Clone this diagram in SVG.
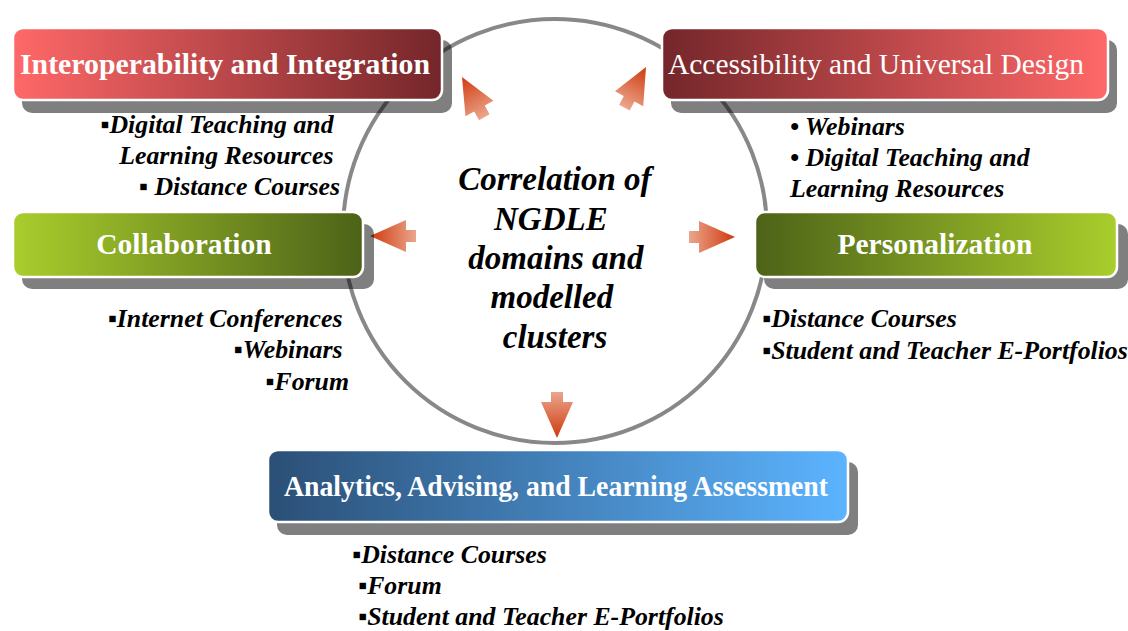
<svg xmlns="http://www.w3.org/2000/svg" width="1128" height="631" viewBox="0 0 1128 631">
  <defs>
    <linearGradient id="gRedR" x1="0" y1="0" x2="1" y2="0">
      <stop offset="0" stop-color="#FF6868"/>
      <stop offset="1" stop-color="#74262A"/>
    </linearGradient>
    <linearGradient id="gRedL" x1="0" y1="0" x2="1" y2="0">
      <stop offset="0" stop-color="#74262A"/>
      <stop offset="1" stop-color="#FF6868"/>
    </linearGradient>
    <linearGradient id="gGreenR" x1="0" y1="0" x2="1" y2="0">
      <stop offset="0" stop-color="#A9CE2C"/>
      <stop offset="1" stop-color="#4D6218"/>
    </linearGradient>
    <linearGradient id="gGreenL" x1="0" y1="0" x2="1" y2="0">
      <stop offset="0" stop-color="#4D6218"/>
      <stop offset="1" stop-color="#A9CE2C"/>
    </linearGradient>
    <linearGradient id="gBlue" x1="0" y1="0" x2="1" y2="0">
      <stop offset="0" stop-color="#2B4F76"/>
      <stop offset="1" stop-color="#5CB4FF"/>
    </linearGradient>
    <linearGradient id="gArrow" gradientUnits="userSpaceOnUse" x1="-46" y1="0" x2="0" y2="0">
      <stop offset="0" stop-color="#EBA68C"/>
      <stop offset="1" stop-color="#CF3A0E"/>
    </linearGradient>
    <polygon id="blockArrow" points="0,0 -36,-16 -36,-6 -46,-6 -46,6 -36,6 -36,16" fill="url(#gArrow)"/>
  </defs>
  <style>
    .shadow { fill: #000; fill-opacity: 0.5; }
    .box { stroke: #fff; stroke-width: 2.5; }
    .title { font-family: "Liberation Serif", "Times New Roman", serif; font-size: 29.5px; fill: #fff; }
    .bold { font-weight: bold; }
    .item { font-family: "Liberation Serif", "Times New Roman", serif; font-size: 25.8px; font-weight: bold; font-style: italic; fill: #000; }
    .center { font-family: "Liberation Serif", "Times New Roman", serif; font-size: 33px; font-weight: bold; font-style: italic; fill: #000; text-anchor: middle; }
    .ring { fill: none; stroke: #888; stroke-width: 4; }
  </style>

  <rect width="1128" height="631" fill="#fff"/>

  <!-- central ring -->
  <circle class="ring" cx="555" cy="231" r="212"/>

  <!-- block arrows radiating from the centre -->
  <g id="connectors">
    <use href="#blockArrow" transform="translate(370,236) rotate(180)"/>
    <use href="#blockArrow" transform="translate(735,237)"/>
    <use href="#blockArrow" transform="translate(557,438) rotate(90)"/>
    <use href="#blockArrow" transform="translate(462,77) rotate(-119)"/>
    <use href="#blockArrow" transform="translate(646,67) rotate(-62)"/>
  </g>

  <g id="interoperability">
    <rect class="shadow" x="22" y="40" width="430" height="73" rx="10"/>
    <rect class="box" x="13" y="28" width="429" height="72" rx="10" fill="url(#gRedR)"/>
    <text class="title bold" x="225" y="74" text-anchor="middle" textLength="410" lengthAdjust="spacingAndGlyphs">Interoperability and Integration</text>
    <text class="item" text-anchor="end">
      <tspan x="340" y="133">▪Digital Teaching and</tspan>
      <tspan x="340" y="164">Learning Resources</tspan>
      <tspan x="340" y="195">▪ Distance Courses</tspan>
    </text>
  </g>

  <g id="accessibility">
    <rect class="shadow" x="671" y="40" width="446" height="73" rx="10"/>
    <rect class="box" x="662" y="28" width="446" height="72" rx="10" fill="url(#gRedL)"/>
    <text class="title" x="668" y="74" textLength="416" lengthAdjust="spacingAndGlyphs">Accessibility and Universal Design</text>
    <text class="item">
      <tspan x="790" y="135">• Webinars</tspan>
      <tspan x="790" y="166">• Digital Teaching and</tspan>
      <tspan x="790" y="197">Learning Resources</tspan>
    </text>
  </g>

  <g id="collaboration">
    <rect class="shadow" x="22" y="224" width="352" height="65" rx="10"/>
    <rect class="box" x="13" y="212" width="350" height="65" rx="10" fill="url(#gGreenR)"/>
    <text class="title bold" x="184" y="254" text-anchor="middle">Collaboration</text>
    <text class="item" text-anchor="end">
      <tspan x="349" y="327">▪Internet Conferences</tspan>
      <tspan x="349" y="358">▪Webinars</tspan>
      <tspan x="349" y="390">▪Forum</tspan>
    </text>
  </g>

  <g id="personalization">
    <rect class="shadow" x="764" y="224" width="364" height="65" rx="10"/>
    <rect class="box" x="755" y="212" width="362" height="65" rx="10" fill="url(#gGreenL)"/>
    <text class="title bold" x="935" y="254" text-anchor="middle">Personalization</text>
    <text class="item">
      <tspan x="762" y="327">▪Distance Courses</tspan>
      <tspan x="762" y="359">▪Student and Teacher E-Portfolios</tspan>
    </text>
  </g>

  <g id="analytics">
    <rect class="shadow" x="277" y="462" width="581" height="73" rx="10"/>
    <rect class="box" x="268" y="450" width="580" height="72" rx="10" fill="url(#gBlue)"/>
    <text class="title bold" x="556" y="496" text-anchor="middle" textLength="544" lengthAdjust="spacingAndGlyphs">Analytics, Advising, and Learning Assessment</text>
    <text class="item">
      <tspan x="352" y="563">▪Distance Courses</tspan>
      <tspan x="358" y="594">▪Forum</tspan>
      <tspan x="358" y="625">▪Student and Teacher E-Portfolios</tspan>
    </text>
  </g>

  <g id="centre-label">
    <text class="center">
      <tspan x="559" y="190">Correlation of</tspan>
      <tspan x="555" y="230">NGDLE</tspan>
      <tspan x="560" y="269">domains and</tspan>
      <tspan x="556" y="308">modelled</tspan>
      <tspan x="555" y="348">clusters</tspan>
    </text>
  </g>
</svg>
